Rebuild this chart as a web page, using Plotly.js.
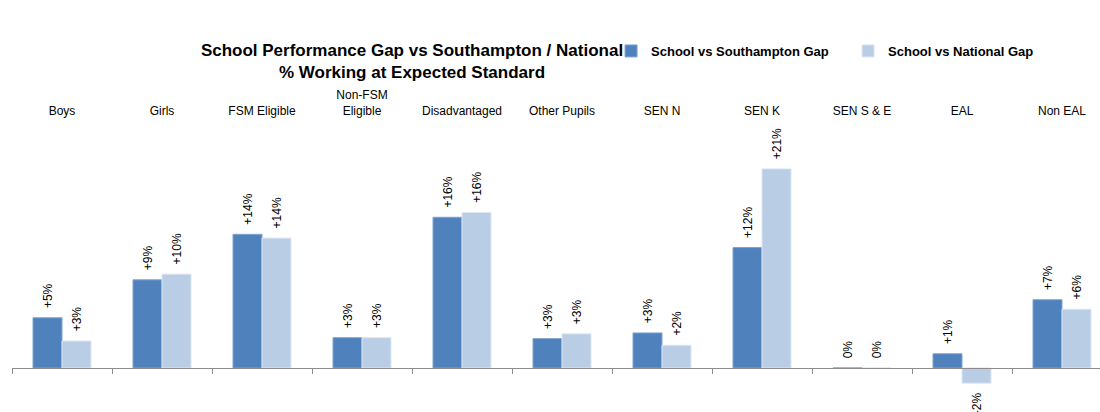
<!DOCTYPE html>
<html>
<head>
<meta charset="utf-8">
<script src="https://cdn.plot.ly/plotly-3.0.1.min.js"></script>
<style>html,body{margin:0;padding:0;background:#fff;}#chart{width:1100px;height:412px;}</style>
</head>
<body>
<div id="chart"></div>
<script>
const categories = ["Boys", "Girls", "FSM Eligible", "Non-FSM<br>Eligible", "Disadvantaged", "Other Pupils", "SEN N", "SEN K", "SEN S &amp; E", "EAL", "Non EAL"];
const southamptonGap = [5.3, 9.3, 14.1, 3.2, 15.9, 3.1, 3.7, 12.7, 0, 1.5, 7.2];
const nationalGap = [2.85, 9.9, 13.7, 3.2, 16.4, 3.6, 2.4, 21.0, 0, -1.6, 6.2];
const southamptonLabels = ["+5%", "+9%", "+14%", "+3%", "+16%", "+3%", "+3%", "+12%", "0%", "+1%", "+7%"];
const nationalLabels = ["+3%", "+10%", "+14%", "+3%", "+16%", "+3%", "+2%", "+21%", "0%", "-2%", "+6%"];
const seriesNames = ["School vs Southampton Gap", "School vs National Gap"];

const yRange = [-4.64, 25.63];
const xRange = [-0.5, 10.38];
const zeroPos = (0 - yRange[0]) / (yRange[1] - yRange[0]);
const labelFont = {family: "Liberation Sans, Arial, sans-serif", size: 12, color: "#000"};

const traces = [
  {type: "bar", name: seriesNames[0], x: categories, y: southamptonGap, text: southamptonLabels,
   texttemplate: "\u00a0\u00a0%{text}\u00a0\u00a0", textposition: "outside", textangle: -90, cliponaxis: false,
   constraintext: "none", textfont: labelFont, hoverinfo: "skip",
   marker: {color: "#4F81BD", line: {color: "#7FA3CF", width: 1}}},
  {type: "bar", name: seriesNames[1], x: categories, y: nationalGap, text: nationalLabels,
   texttemplate: "\u00a0\u00a0%{text}\u00a0\u00a0", textposition: "outside", textangle: -90, cliponaxis: false,
   constraintext: "none", textfont: labelFont, hoverinfo: "skip",
   marker: {color: "#B9CDE5", line: {color: "#DCE6F2", width: 1}}},
  {type: "scatter", mode: "markers", x: categories, y: categories.map(() => null), xaxis: "x2", yaxis: "y",
   showlegend: false, hoverinfo: "skip", marker: {opacity: 0}}
];

const layout = {
  width: 1100, height: 412,
  margin: {l: 12, r: 0, t: 125, b: 0},
  paper_bgcolor: "#fff", plot_bgcolor: "rgba(0,0,0,0)",
  barmode: "group", bargap: 0.42, bargroupgap: 0,
  title: {text: "School Performance Gap vs Southampton / National<br>% Working at Expected Standard",
          font: {family: "Liberation Sans, Arial, sans-serif", size: 17, color: "#000", weight: "bold"},
          x: 412/1100, xanchor: "center", xref: "container", y: 1 - 56/412, yanchor: "middle", yref: "container"},
  showlegend: true,
  legend: {orientation: "h", x: 0.5506, xanchor: "left", y: 1 - 51/412, yanchor: "middle", yref: "container",
           font: {family: "Liberation Sans, Arial, sans-serif", size: 13, color: "#000", weight: "bold"},
           itemwidth: 30, traceorder: "normal", entrywidth: 192},
  xaxis: {type: "category", range: xRange, anchor: "free", position: zeroPos,
          showline: true, linecolor: "#8C8C8C", linewidth: 1,
          ticks: "outside", tickson: "boundaries", ticklen: 5, tickcolor: "#8C8C8C",
          showticklabels: false, showgrid: false, zeroline: false, fixedrange: true},
  xaxis2: {type: "category", range: xRange, overlaying: "x", side: "top", anchor: "y",
           categoryorder: "array", categoryarray: categories, ticklabelstandoff: 7,
           ticks: "", showline: false, showgrid: false, zeroline: false,
           tickfont: {family: "Liberation Sans, Arial, sans-serif", size: 12, color: "#000"}},
  yaxis: {range: yRange, visible: false, showgrid: false, zeroline: false, fixedrange: true}
};

Plotly.newPlot("chart", traces, layout, {displayModeBar: false, staticPlot: true});
</script>
</body>
</html>
